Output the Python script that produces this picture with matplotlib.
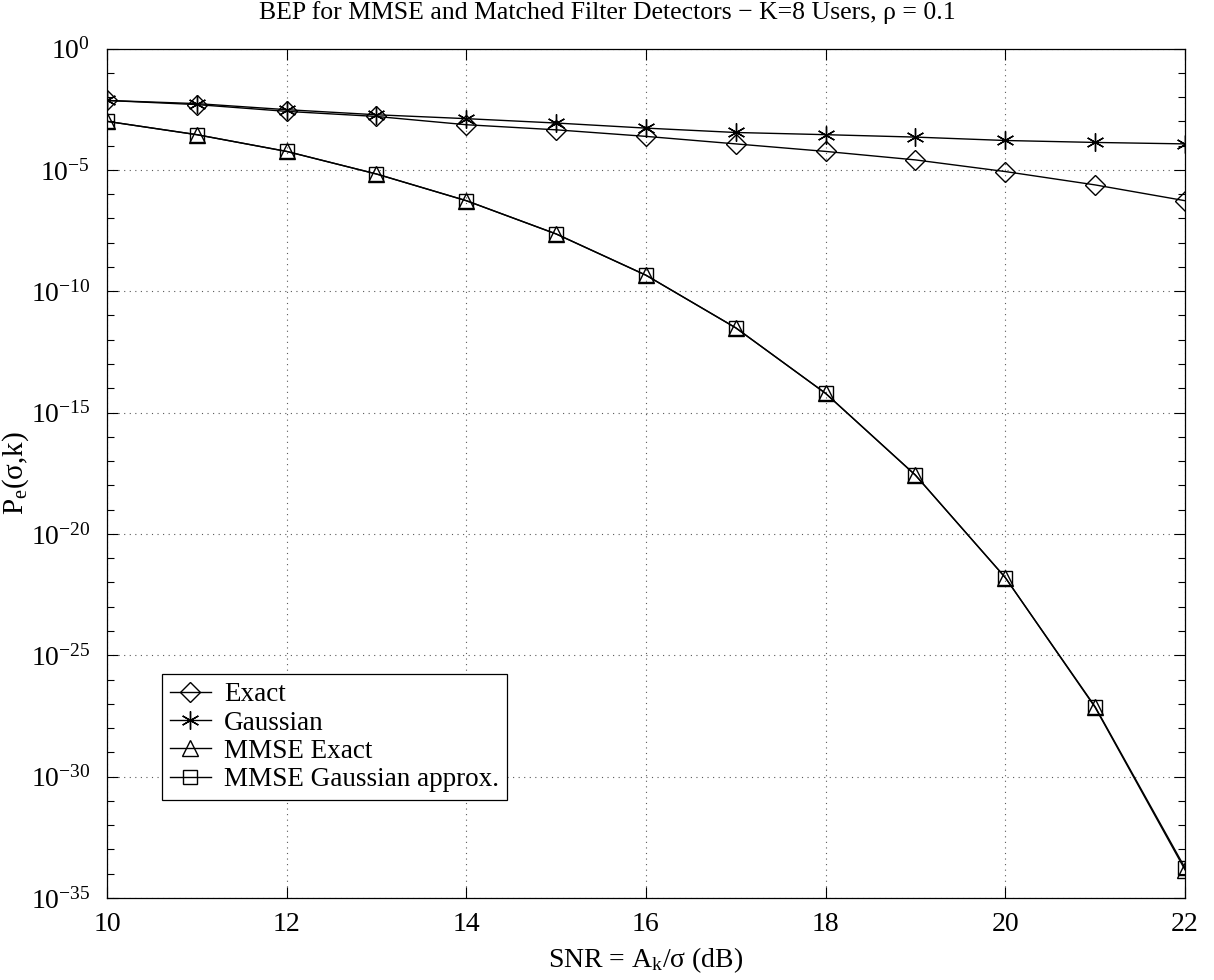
import numpy as np
import matplotlib
matplotlib.use("Agg")
import matplotlib.pyplot as plt
from matplotlib.ticker import FixedLocator, NullFormatter

plt.rcParams['font.family'] = ['Liberation Serif', 'DejaVu Serif']
plt.rcParams['mathtext.fontset'] = 'custom'
plt.rcParams['mathtext.rm'] = 'Liberation Serif'
plt.rcParams['mathtext.it'] = 'Liberation Serif:italic'

# SNR values (dB)
snr_db = np.arange(10, 23)

# log10 of bit error probability
log_exact = np.array([-2.14, -2.31, -2.59, -2.80, -3.14, -3.35, -3.62,
                      -3.93, -4.24, -4.59, -5.07, -5.62, -6.27])
log_gauss = np.array([-2.14, -2.27, -2.52, -2.73, -2.89, -3.07, -3.28,
                      -3.46, -3.55, -3.65, -3.79, -3.87, -3.93])
log_mmse_exact = np.array([-3.00, -3.55, -4.24, -5.17, -6.27, -7.64, -9.34,
                           -11.51, -14.21, -17.58, -21.80, -27.15, -33.84])
log_mmse_gauss = np.array([-3.00, -3.55, -4.24, -5.17, -6.27, -7.64, -9.34,
                           -11.51, -14.21, -17.58, -21.80, -27.12, -33.76])

pe_exact = 10.0 ** log_exact
pe_gauss = 10.0 ** log_gauss
pe_mmse_exact = 10.0 ** log_mmse_exact
pe_mmse_gauss = 10.0 ** log_mmse_gauss

fig = plt.figure(figsize=(12.14, 9.8), dpi=100)
ax = fig.add_axes([0.0881, 0.0837, 0.8880, 0.8668])

asterisk = (6, 2, 0)
ax.semilogy(snr_db, pe_exact, "k-", marker="D", mfc="none", ms=10, mew=1.0,
            lw=1.0, label="Exact")
ax.semilogy(snr_db, pe_gauss, "k-", marker=asterisk, ms=13, mew=1.0,
            lw=1.0, label="Gaussian")
ax.semilogy(snr_db, pe_mmse_exact, "k-", marker="^", mfc="none", ms=12,
            mew=1.0, lw=1.0, label="MMSE Exact")
ax.semilogy(snr_db, pe_mmse_gauss, "k-", marker="s", mfc="none", ms=10,
            mew=1.0, lw=1.0, label="MMSE Gaussian approx.")

ax.set_xlim(10, 22)
ax.set_ylim(1e-35, 1e0)
ax.set_xticks(np.arange(10, 23, 2))
major_exp = list(range(-35, 1, 5))
ax.yaxis.set_major_locator(FixedLocator([10.0 ** e for e in major_exp]))
ax.yaxis.set_minor_locator(FixedLocator(
    [10.0 ** e for e in range(-35, 1) if e % 5 != 0]))
ax.yaxis.set_minor_formatter(NullFormatter())
ax.set_yticklabels([r"$10^{%d}$" % e for e in major_exp])

ax.tick_params(which="both", direction="in", top=True, right=True,
               labelsize=20, width=0.8)
ax.tick_params(axis="x", pad=10)
ax.tick_params(axis="y", pad=12)
ax.tick_params(which="major", length=8)
ax.tick_params(which="minor", length=5)
ax.grid(True, which="major", linestyle=(0, (1, 4)), color="0.35", lw=0.8)
for s in ax.spines.values():
    s.set_linewidth(0.9)

ax.set_xlabel("SNR = A$_\\mathrm{k}$/σ (dB)", fontsize=20, labelpad=6)
ax.set_ylabel("P$_\\mathrm{e}$(σ,k)", fontsize=21, labelpad=0)
ax.set_title("BEP for MMSE and Matched Filter Detectors − K=8 Users, ρ = 0.1",
             fontsize=18.5, pad=21, x=0.464)

leg = ax.legend(loc="lower left", bbox_to_anchor=(0.051, 0.115), fontsize=19.5,
                fancybox=False, framealpha=1, edgecolor="k",
                handlelength=1.5, handletextpad=0.5, borderpad=0.3,
                labelspacing=0.12, borderaxespad=0)
leg.get_frame().set_linewidth(0.9)

fig.savefig("out.png", dpi=100)
